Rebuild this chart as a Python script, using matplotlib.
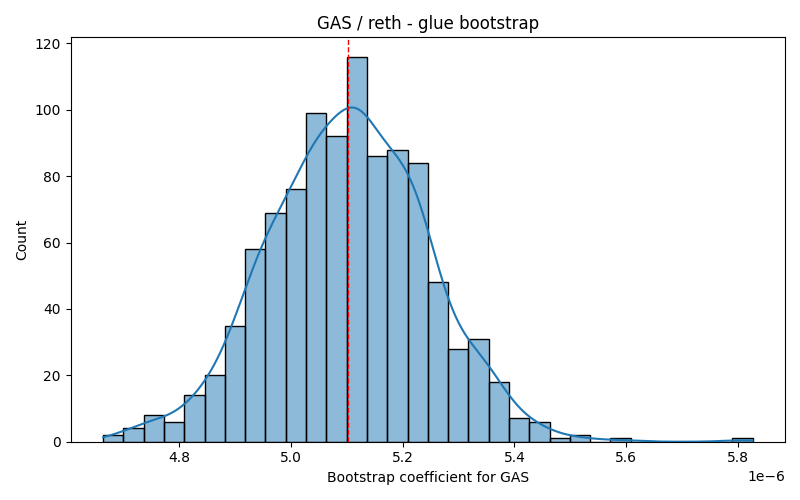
import numpy as np
import matplotlib
matplotlib.use("Agg")
import matplotlib.pyplot as plt
import seaborn as sns

# Histogram bin edges (in units of 1e-6) and counts
bin_start = 4.664
bin_end = 5.826
n_bins = 32
counts = [2, 4, 8, 6, 14, 20, 35, 58, 69, 76, 99, 92, 116, 86, 88, 84,
          48, 28, 31, 18, 7, 6, 1, 2, 0, 1, 0, 0, 0, 0, 0, 1]
point_estimate = 5.102

edges = np.linspace(bin_start, bin_end, n_bins + 1) * 1e-6
centers = (edges[:-1] + edges[1:]) / 2
samples = np.repeat(centers, counts)

fig, ax = plt.subplots(figsize=(8, 5), dpi=100)
sns.histplot(samples, bins=edges, kde=True, ax=ax,
             kde_kws=dict(cut=1, clip=(edges[0], edges[-1])))
ax.axvline(point_estimate * 1e-6, color="red", linestyle="--", linewidth=1)
ax.set_title("GAS / reth - glue bootstrap")
ax.set_xlabel("Bootstrap coefficient for GAS")
ax.set_ylabel("Count")
fig.tight_layout()
fig.savefig("out.png")
